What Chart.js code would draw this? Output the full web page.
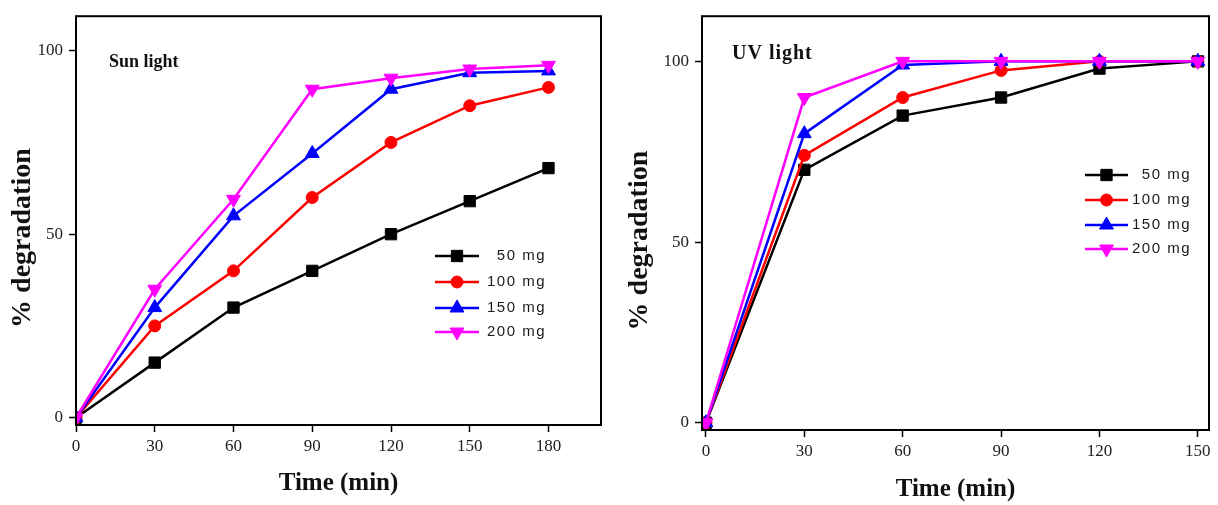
<!DOCTYPE html>
<html>
<head>
<meta charset="utf-8">
<script src="https://cdn.jsdelivr.net/npm/chart.js@4.4.0/dist/chart.umd.min.js"></script>
<style>
  html, body { margin: 0; padding: 0; background: #fff; }
  #wrap { position: relative; width: 1218px; height: 505px; }
  .box { position: absolute; top: 0; height: 505px; }
  #left { left: 0; width: 610px; }
  #right { left: 610px; width: 608px; }
</style>
</head>
<body>
<div id="wrap">
  <div class="box" id="left"><canvas id="sun" width="610" height="505"></canvas></div>
  <div class="box" id="right"><canvas id="uv" width="608" height="505"></canvas></div>
</div>
<script>
// data
const seriesLabels = ['50 mg', '100 mg', '150 mg', '200 mg'];

const sunTimes = [0, 30, 60, 90, 120, 150, 180];
const sun50  = [0, 15, 30, 40, 50, 59, 68];
const sun100 = [0, 25, 40, 60, 75, 85, 90];
const sun150 = [0, 30, 55, 72, 89.5, 94, 94.5];
const sun200 = [0, 35, 59.5, 89.5, 92.5, 95, 96];

const uvTimes = [0, 30, 60, 90, 120, 150];
const uv50  = [0, 70, 85, 90, 98, 100];
const uv100 = [0, 74, 90, 97.5, 100, 100];
const uv150 = [0, 80, 99, 100, 100, 100];
const uv200 = [0, 90, 100, 100, 100, 100];

const yTicks = [0, 50, 100];
const sunXTicks = [0, 30, 60, 90, 120, 150, 180];
const uvXTicks = [0, 30, 60, 90, 120, 150];

const colors = ['#000000', '#ff0000', '#0000ff', '#ff00ff'];
const markers = ['rect', 'circle', 'triangle', 'triangle'];
const markerRot = [0, 0, 0, 180];
const markerSize = [8, 6, 8, 8];

function makeSets(times, series) {
  return series.map((vals, i) => ({
    label: seriesLabels[i],
    data: vals.map((v, j) => ({ x: times[j], y: v })),
    borderColor: colors[i],
    backgroundColor: colors[i],
    borderWidth: 2.5,
    pointStyle: markers[i],
    pointRotation: markerRot[i],
    pointRadius: markerSize[i],
    pointBorderWidth: 1,
    order: 4 - i,
    tension: 0
  }));
}

// box round the plot area
const frame = {
  id: 'frame',
  afterDraw(chart) {
    const { ctx, chartArea: a } = chart;
    ctx.save();
    ctx.strokeStyle = '#000';
    ctx.lineWidth = 2;
    ctx.strokeRect(a.left, a.top, a.right - a.left, a.bottom - a.top);
    ctx.restore();
  }
};

// panel label + legend drawn inside the plot
const inside = {
  id: 'inside',
  afterDraw(chart, args, opts) {
    const ctx = chart.ctx;
    ctx.save();
    ctx.fillStyle = '#111';
    ctx.font = 'bold ' + opts.labelSize + 'px "Liberation Serif"';
    ctx.letterSpacing = opts.labelSpacing + 'px';
    ctx.textBaseline = 'middle';
    ctx.textAlign = 'left';
    ctx.fillText(opts.label, opts.labelX, opts.labelY);

    ctx.letterSpacing = '1.5px';
    ctx.font = '15px "Liberation Sans"';
    ctx.textAlign = 'right';
    chart.data.datasets.forEach((ds, i) => {
      const y = opts.legendY[i];
      ctx.strokeStyle = ds.borderColor;
      ctx.fillStyle = ds.backgroundColor;
      ctx.lineWidth = 2.5;
      ctx.beginPath();
      ctx.moveTo(opts.lineX0, y);
      ctx.lineTo(opts.lineX1, y);
      ctx.stroke();
      ctx.lineWidth = 1;
      Chart.helpers.drawPoint(ctx, {
        pointStyle: ds.pointStyle, radius: ds.pointRadius,
        rotation: ds.pointRotation, borderWidth: 1
      }, (opts.lineX0 + opts.lineX1) / 2, y);
      ctx.fillStyle = '#1a1a1a';
      ctx.fillText(ds.label, opts.textRight, y);
    });
    ctx.restore();
  }
};

function makeChart(id, times, series, xMin, xMax, xTicks, yMax, box, extra) {
  return new Chart(document.getElementById(id), {
    type: 'line',
    data: { datasets: makeSets(times, series) },
    options: {
      responsive: false,
      animation: false,
      layout: { padding: { top: box.top, right: box.right, left: 0, bottom: 0 } },
      plugins: { legend: { display: false }, tooltip: { enabled: false }, inside: extra },
      scales: {
        x: {
          type: 'linear', min: xMin, max: xMax,
          afterBuildTicks: s => { s.ticks = xTicks.map(v => ({ value: v })); },
          afterFit: s => { s.height = box.xh; },
          border: { display: false },
          grid: { drawOnChartArea: false, tickLength: 7, tickColor: '#000', tickWidth: 1.5 },
          ticks: { color: '#222', padding: 4, maxRotation: 0, font: { family: 'Liberation Serif', size: 17 } },
          title: { display: true, text: 'Time (min)', color: '#111',
                   padding: { top: 0, bottom: box.xtPad },
                   font: { family: 'Liberation Serif', size: 25, weight: 'bold' } }
        },
        y: {
          min: -2, max: yMax,
          afterBuildTicks: s => { s.ticks = yTicks.map(v => ({ value: v })); },
          afterFit: s => { s.width = box.yw; },
          border: { display: false },
          grid: { drawOnChartArea: false, tickLength: 7, tickColor: '#000', tickWidth: 1.5 },
          ticks: { color: '#222', padding: 6, font: { family: 'Liberation Serif', size: 17 } },
          title: { display: true, text: '% degradation     ', color: '#111',
                   padding: { top: box.ytPad, bottom: 0 },
                   font: { family: 'Liberation Serif', size: 28, weight: 'bold' } }
        }
      }
    },
    plugins: [frame, inside]
  });
}

makeChart('sun', sunTimes, [sun50, sun100, sun150, sun200], 0, 200, sunXTicks, 109.4,
  { top: 12, right: 9, xh: 80, yw: 76, xtPad: 6, ytPad: 6 },
  { label: 'Sun light', labelX: 109, labelY: 62, labelSize: 18, labelSpacing: 0,
    lineX0: 435, lineX1: 479, textRight: 546, legendY: [256, 282, 308, 332] });

makeChart('uv', uvTimes, [uv50, uv100, uv150, uv200], -1.2, 153.4, uvXTicks, 112.5,
  { top: 10, right: 4, xh: 75, yw: 92, xtPad: 0, ytPad: 13 },
  { label: 'UV light', labelX: 122, labelY: 54, labelSize: 20, labelSpacing: 1,
    lineX0: 475, lineX1: 518, textRight: 581, legendY: [175, 200, 225, 249] });
</script>
</body>
</html>
